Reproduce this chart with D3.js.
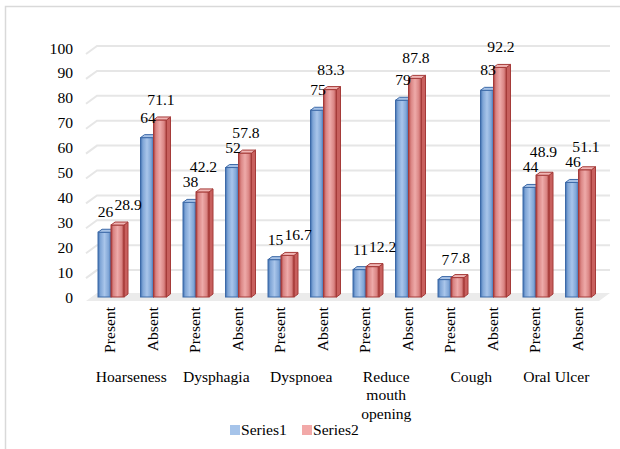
<!DOCTYPE html>
<meta charset="utf-8">
<style>
  body { margin: 0; background: #fff; }
  svg text { font-family: "Liberation Serif", "DejaVu Serif", "Times New Roman", serif; fill: #000; }
</style>
<body>
<script src="https://d3js.org/d3.v7.min.js"></script>
<script>
// data
var groups = ["Hoarseness", "Dysphagia", "Dyspnoea", "Reduce mouth opening", "Cough", "Oral Ulcer"];
var subLabels = ["Present", "Absent"];
var series1 = [26, 64, 38, 52, 15, 75, 11, 79, 7, 83, 44, 46];
var series2 = [28.9, 71.1, 42.2, 57.8, 16.7, 83.3, 12.2, 87.8, 7.8, 92.2, 48.9, 51.1];
var seriesNames = ["Series1", "Series2"];
var yTicks = [0, 10, 20, 30, 40, 50, 60, 70, 80, 90, 100];

var width = 620, height = 449;
var serif = "'Liberation Serif', 'DejaVu Serif', serif";
var fs = "15.6px";

// categories: one per group/sub label pair
var cats = [];
groups.forEach(function(g, gi) {
  subLabels.forEach(function(s) { cats.push({ id: gi + "-" + s, group: g, gi: gi, sub: s }); });
});

var svg = d3.select("body").append("svg")
  .attr("width", width).attr("height", height)
  .attr("font-family", serif)
  .style("font-family", serif);

// outer frame
svg.append("rect")
  .attr("x", 5.5).attr("y", 6.5)
  .attr("width", 620).attr("height", 450)
  .attr("fill", "none").attr("stroke", "#d9d9d9").attr("stroke-width", 1.5);

var x = d3.scaleBand()
  .domain(cats.map(function(d) { return d.id; }))
  .range([88.75, 598.75]);

var y = d3.scaleLinear().domain([0, 100]).range([297, 48]);

// 3d depth of the walls
var depthX = 11, depthY = -8;
var wallLeft = 86, wallRight = 599;

// gradients for the bars
var defs = svg.append("defs");
function grad(id, stops) {
  var g = defs.append("linearGradient").attr("id", id)
    .attr("x1", "0%").attr("x2", "100%").attr("y1", "0%").attr("y2", "0%");
  stops.forEach(function(s) {
    g.append("stop").attr("offset", s[0]).attr("stop-color", s[1]);
  });
}
grad("blueFront", [["0%", "#3f6fb0"], ["18%", "#7fa5d6"], ["50%", "#a9c5ea"], ["82%", "#7fa5d6"], ["100%", "#3f6fb0"]]);
grad("redFront", [["0%", "#a83a38"], ["18%", "#d98382"], ["50%", "#eeaaa9"], ["82%", "#d98382"], ["100%", "#a83a38"]]);

var colors = [
  { front: "url(#blueFront)", side: "#5b86c0", top: "#a7c2e6", stroke: "#3d6aa8" },
  { front: "url(#redFront)", side: "#c8605e", top: "#f0b5b4", stroke: "#a53b39" }
];

// floor
svg.append("path")
  .attr("d", "M" + wallLeft + "," + (y(0) + 4) +
    "L" + (wallLeft + depthX) + "," + (y(0) + 4 + depthY) +
    "L" + (wallRight + depthX) + "," + (y(0) + 4 + depthY) +
    "L" + wallRight + "," + (y(0) + 4) + "Z")
  .attr("fill", "#ebebeb");

// gridlines on the back wall with the slanted side wall part
var grid = svg.append("g");
yTicks.forEach(function(t) {
  if (t === 0) return;
  var yb = y(t) - 2;
  grid.append("path")
    .attr("d", "M" + wallLeft + "," + (yb - depthY) +
      "L" + (wallLeft + depthX) + "," + yb +
      "L" + (wallRight + depthX) + "," + yb)
    .attr("fill", "none").attr("stroke", "#e6e6e6").attr("stroke-width", 2);
});

// y tick labels
svg.append("g").selectAll("text")
  .data(yTicks).enter().append("text")
  .attr("x", 73).attr("y", function(d) { return y(d) + 5.5; })
  .attr("text-anchor", "end")
  .style("font-size", fs)
  .text(function(d) { return d; });

// bars
var barW = 13, bdx = 4, bdy = -3;
var barsData = [];
cats.forEach(function(c, i) {
  [series1[i], series2[i]].forEach(function(v, s) {
    var cx = x(c.id) + x.bandwidth() / 2;
    barsData.push({ v: v, s: s, x0: cx - 12 + s * barW });
  });
});

var bars = svg.append("g").selectAll("g")
  .data(barsData).enter().append("g");

bars.append("path") // side face
  .attr("d", function(d) {
    var x1 = d.x0 + barW, yt = y(d.v), yb = y(0);
    return "M" + x1 + "," + yb + "L" + (x1 + bdx) + "," + (yb + bdy) +
      "L" + (x1 + bdx) + "," + (yt + bdy) + "L" + x1 + "," + yt + "Z";
  })
  .attr("fill", function(d) { return colors[d.s].side; })
  .attr("stroke", function(d) { return colors[d.s].stroke; })
  .attr("stroke-width", 1);

bars.append("rect") // front face
  .attr("x", function(d) { return d.x0; })
  .attr("y", function(d) { return y(d.v); })
  .attr("width", barW)
  .attr("height", function(d) { return y(0) - y(d.v); })
  .attr("fill", function(d) { return colors[d.s].front; })
  .attr("stroke", function(d) { return colors[d.s].stroke; })
  .attr("stroke-width", 1);

bars.append("path") // top face
  .attr("d", function(d) {
    var yt = y(d.v);
    return "M" + d.x0 + "," + yt + "L" + (d.x0 + bdx) + "," + (yt + bdy) +
      "L" + (d.x0 + barW + bdx) + "," + (yt + bdy) + "L" + (d.x0 + barW) + "," + yt + "Z";
  })
  .attr("fill", function(d) { return colors[d.s].top; })
  .attr("stroke", function(d) { return colors[d.s].stroke; })
  .attr("stroke-width", 1);

// data labels: series2 goes right of series1 when nearly level,
// otherwise lifted just enough to clear it
var labels = svg.append("g").style("font-size", fs);
var prev = null;
barsData.forEach(function(d) {
  var cx = d.x0 + barW / 2 + 1;
  var ly = y(d.v) - 15;
  var t = labels.append("text")
    .attr("x", cx).attr("y", ly)
    .attr("text-anchor", "middle")
    .text(d.v);
  var bb = t.node().getBBox();
  if (d.s === 1 && prev) {
    var overlapX = bb.x < prev.right + 1;
    var dy = prev.y - ly;
    if (overlapX && dy < 9) {
      t.attr("x", cx + (prev.right + 1 - bb.x));
    } else if (overlapX && dy < 15) {
      t.attr("y", prev.y - 15);
    }
  }
  if (d.s === 0) prev = { right: bb.x + bb.width, y: ly };
});

// rotated Present / Absent labels
svg.append("g").selectAll("text")
  .data(cats).enter().append("text")
  .attr("transform", function(d) {
    return "translate(" + (x(d.id) + x.bandwidth() / 2 + 5) + ",307) rotate(-90)";
  })
  .attr("text-anchor", "end")
  .style("font-size", fs)
  .text(function(d) { return d.sub; });

// group labels, wrapped like the original
var wrapWords = { "Reduce mouth opening": ["Reduce", "mouth", "opening"] };
var gl = svg.append("g").selectAll("text")
  .data(groups).enter().append("text")
  .attr("text-anchor", "middle")
  .style("font-size", fs);
gl.each(function(g, gi) {
  var cx = (x(gi + "-Present") + x(gi + "-Absent")) / 2 + x.bandwidth() / 2;
  var lines = wrapWords[g] || [g];
  var el = d3.select(this);
  lines.forEach(function(line, li) {
    el.append("tspan").attr("x", cx).attr("y", 381.5 + li * 18.5).text(line);
  });
});

// legend
var legColors = ["#a6c4ea", "#f2a9a8"];
var leg = svg.append("g").selectAll("g")
  .data(seriesNames).enter().append("g")
  .attr("transform", function(d, i) { return "translate(" + (230 + i * 72) + ",425)"; });
leg.append("rect").attr("width", 10).attr("height", 10)
  .attr("fill", function(d, i) { return legColors[i]; });
leg.append("text").attr("x", 11).attr("y", 10)
  .style("font-size", fs)
  .text(function(d) { return d; });
</script>
</body>
